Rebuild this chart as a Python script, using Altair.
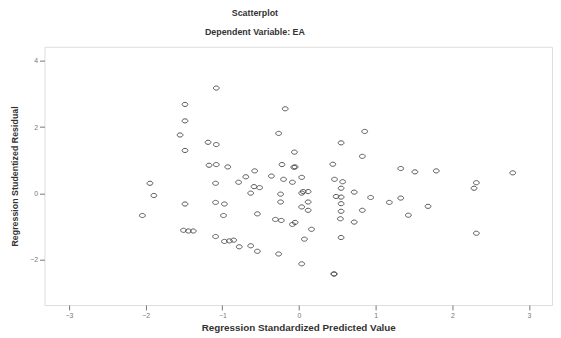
import altair as alt
import pandas as pd

# Regression Standardized Predicted Value
pred = [
    -1.079, -1.487, -1.487, -1.551, -1.487, -0.180, -0.266, -1.186, -1.079, -0.060,
    -1.173, -1.079, -0.929, -0.578, -0.694, -0.788, -0.360, -0.222, -0.068, -0.202,
    -0.086, 0.035, -1.944, -1.088, -0.587, -0.514, -0.630, -0.240, 0.035, -1.893,
    -0.240, -1.487, -1.088, -0.973, 0.035, -2.043, -0.985, -0.543, -0.308, -0.231,
    -0.086, -1.507, -1.443, -1.379, -1.088, -0.973, -0.908, -0.852, -0.780, -0.630,
    -0.543, -0.266, 0.035, 0.070, 0.857, 0.549, 0.826, 0.441, -0.051, 0.055,
    0.119, 0.119, 0.119, -0.051, 0.163, 0.454, 0.460, 0.463, 0.569, 0.549,
    0.484, 0.549, 0.549, 0.549, 0.540, 0.549, 0.720, 0.720, 0.934, 0.826,
    1.178, 1.327, 1.327, 1.512, 1.790, 1.426, 1.683, 2.313, 2.283, 2.313,
    2.788,
]

# Regression Studentized Residual
resid = [
    3.178, 2.685, 2.189, 1.764, 1.298, 2.554, 1.812, 1.544, 1.476, 1.247,
    0.852, 0.873, 0.802, 0.683, 0.505, 0.339, 0.526, 0.873, 0.793, 0.428,
    0.339, 0.487, 0.309, 0.309, 0.208, 0.178, 0.012, -0.018, 0.012, -0.059,
    -0.255, -0.315, -0.267, -0.315, -0.404, -0.662, -0.662, -0.612, -0.781, -0.811,
    -0.930, -1.108, -1.129, -1.129, -1.295, -1.443, -1.426, -1.405, -1.604, -1.574,
    -1.740, -1.821, -2.118, -1.375, 1.871, 1.527, 1.120, 0.882, 0.802, 0.059,
    0.059, -0.255, -0.505, -0.870, -1.078, -2.424, -2.424, 0.428, 0.356, 0.160,
    -0.089, -0.107, -0.306, -0.535, -0.760, -1.325, 0.042, -0.861, -0.119, -0.505,
    -0.267, 0.754, -0.137, 0.653, 0.683, -0.653, -0.386, 0.327, 0.160, -1.197,
    0.624,
]

x_ticks = [-3, -2, -1, 0, 1, 2, 3]
y_ticks = [-2, 0, 2, 4]

df = pd.DataFrame({"pred": pred, "resid": resid})

FONT = "Liberation Sans"
ELLIPSE = "M-1,0 A1,0.72 0 1,0 1,0 A1,0.72 0 1,0 -1,0 Z"

chart = (
    alt.Chart(df)
    .mark_point(shape=ELLIPSE, filled=False, size=34, strokeWidth=1,
                color="#444444", opacity=0.9)
    .encode(
        x=alt.X("pred:Q",
                scale=alt.Scale(domain=[-3.32, 3.30], nice=False, zero=False),
                axis=alt.Axis(values=x_ticks, title="Regression Standardized Predicted Value",
                              grid=False, domain=False, tickSize=5, tickColor="#777",
                              labelFontSize=7, labelColor="#777", labelPadding=2,
                              titleFontSize=10, titleFontWeight="bold", titleColor="#333",
                              titlePadding=4, titleFont=FONT, labelFont=FONT)),
        y=alt.Y("resid:Q",
                scale=alt.Scale(domain=[-3.36, 4.42], nice=False, zero=False),
                axis=alt.Axis(values=y_ticks, title="Regression Studentized Residual",
                              grid=False, domain=False, tickSize=5, tickColor="#777",
                              labelFontSize=7, labelColor="#777", labelPadding=2,
                              titleFontSize=9, titleFontWeight="bold", titleColor="#333",
                              titlePadding=10, titleFont=FONT, labelFont=FONT)),
    )
    .properties(
        width=515,
        height=262,
        autosize=alt.AutoSizeParams(type="none"),
        padding={"left": 37, "top": 37, "right": 1, "bottom": 30},
        title=alt.TitleParams(
            text="Scatterplot",
            subtitle="Dependent Variable: EA",
            anchor="middle",
            dx=-44,
            font=FONT,
            fontSize=9,
            fontWeight="bold",
            color="#333",
            subtitleFont=FONT,
            subtitleFontSize=9,
            subtitleFontWeight="bold",
            subtitleColor="#333",
            subtitlePadding=10,
            offset=10,
        ),
    )
    .configure_view(fill="#f0f0f0", stroke="#8a8a8a", strokeWidth=1.5)
    .configure(background="white")
)

chart.save("out.html", embed_options={"renderer": "svg", "actions": False})
